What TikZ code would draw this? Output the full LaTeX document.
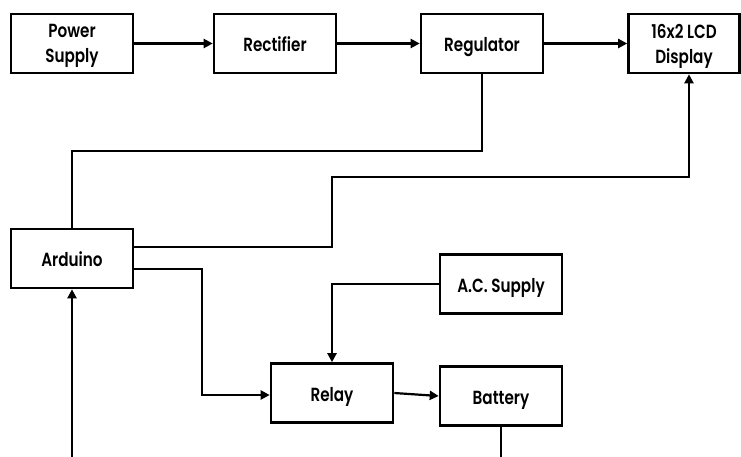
\documentclass[tikz,border=0pt]{standalone}
\usepackage{fontspec}
\setmainfont{Poppins}[BoldFont={Poppins SemiBold},FakeStretch=0.8]
\usetikzlibrary{arrows.meta}
\begin{document}
\begin{tikzpicture}[x=1pt,y=-1pt,
  blk/.style={draw,line width=2.6pt,minimum width=122pt,minimum height=59pt,inner sep=0pt,align=center,text depth=0pt,font=\fontsize{19}{25}\selectfont\bfseries},
  one/.style={blk,text height=16pt},
  conn/.style={line width=2.2pt},
  arr/.style={conn,-{Triangle[length=9pt,width=9pt]}}]
\useasboundingbox (0,0) rectangle (741,457);
\node[blk] (ps) at (72,43.5) {Power\\Supply};
\node[one] (rect) at (275,43.5) {Rectifier};
\node[one] (reg) at (482,43.5) {Regulator};
\node[blk,minimum width=111pt] (lcd) at (684,43.5) {16x2 LCD\\Display};
\node[one] (ard) at (72,258.5) {Arduino};
\node[one] (ac) at (501,284) {A.C. Supply};
\node[one] (relay) at (332,393) {Relay};
\node[one] (bat) at (501,396) {Battery};
\coordinate (ardin) at (72,457);
\coordinate (batout) at (501,457);
\draw[arr] (ps) -- (rect);
\draw[arr] (rect) -- (reg);
\draw[arr] (reg) -- (lcd);
\draw[conn] (reg.south) |- (72,151) -- (ard.north);
\draw[arr] (ard.east |- 0,247) -| (332,177) -| (689,0 |- lcd.south);
\draw[arr] (ard.east |- 0,269) -| (202,395) -- (relay.west |- 0,395);
\draw[arr] (ac.west) -| (relay.north);
\draw[arr] (relay.east) -- (bat.west);
\draw[conn] (bat.south) -- (batout);
\draw[arr] (ardin) -- (ard.south);
\end{tikzpicture}
\end{document}
